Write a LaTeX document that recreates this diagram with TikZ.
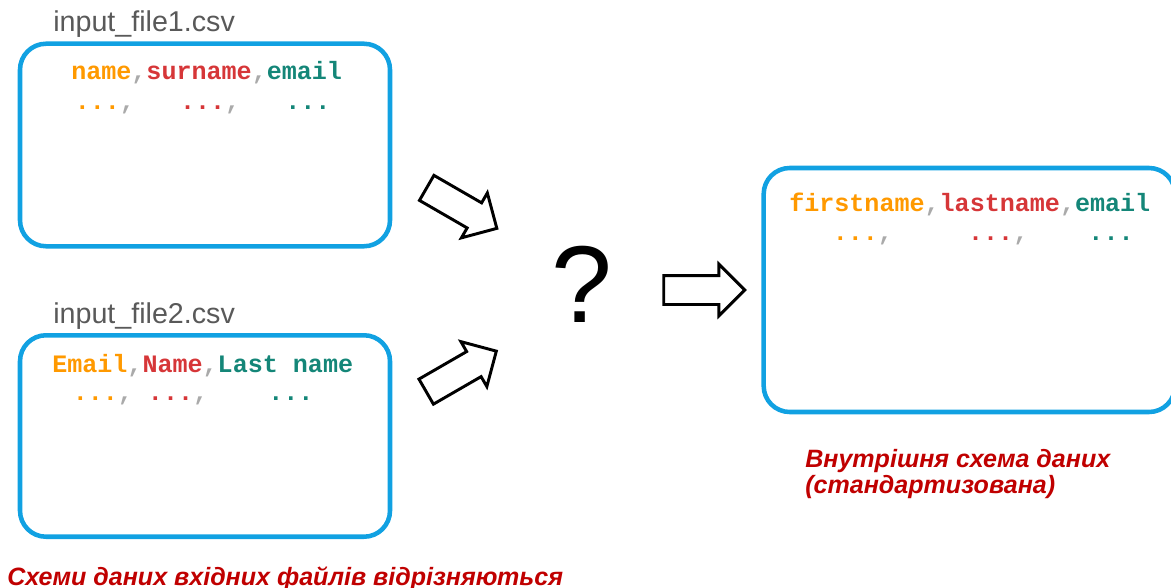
\documentclass[tikz,border=0pt]{standalone}
\usepackage{fontspec}
\setmainfont{Liberation Sans}
\newfontfamily\codefont{Liberation Mono}
\usetikzlibrary{shapes.arrows}

\definecolor{boxblue}{RGB}{17,161,226}
\definecolor{fldorange}{RGB}{255,153,0}
\definecolor{fldred}{RGB}{214,54,56}
\definecolor{fldteal}{RGB}{20,134,120}
\definecolor{cmagray}{RGB}{170,170,170}
\definecolor{labelgray}{RGB}{89,89,89}
\definecolor{notered}{RGB}{192,0,0}

\newcommand{\cma}{\textcolor{cmagray}{,}}

\begin{document}
\begin{tikzpicture}[x=0.75pt, y=-0.75pt,
    databox/.style={draw=boxblue, line width=3.4pt, rounded corners=19.5pt},
    filelabel/.style={anchor=base west, inner sep=0pt, text=labelgray, font=\fontsize{21.5}{26}\selectfont},
    codeline/.style={anchor=base west, inner sep=0pt, font=\codefont\bfseries\fontsize{18.8}{22}\selectfont},
    note/.style={anchor=base west, inner sep=0pt, align=left, text=notered, font=\bfseries\itshape\fontsize{18.8}{19.5}\selectfont},
    fatarrow/.style={single arrow, draw=black, fill=white, line width=2.2pt, inner xsep=0pt, inner ysep=9.75pt,
        minimum height=60.75pt, single arrow head extend=8.6pt}]

    \useasboundingbox (0,0) rectangle (1171,588);

    % input files
    \node[databox, minimum width=277.5pt, minimum height=151.9pt] (file1) at (205,145) {};
    \node[databox, minimum width=277.5pt, minimum height=151.1pt] (file2) at (205,436) {};
    \node[filelabel] (name1) at (53,32) {input\_file1.csv};
    \node[filelabel] (name2) at (53,323) {input\_file2.csv};

    \node[codeline] (head1) at (71,80) {\textcolor{fldorange}{name}\cma\textcolor{fldred}{surname}\cma\textcolor{fldteal}{email}};
    \node[codeline] (rows1) at (74.5,110) {\textcolor{fldorange}{...}\cma~~~\textcolor{fldred}{...}\cma~~~\textcolor{fldteal}{...}};
    \node[codeline] (head2) at (52,372) {\textcolor{fldorange}{Email}\cma\textcolor{fldred}{Name}\cma\textcolor{fldteal}{Last~name}};
    \node[codeline] (rows2) at (72.5,400) {\textcolor{fldorange}{...}\cma~\textcolor{fldred}{...}\cma~~~~\textcolor{fldteal}{...}};

    % internal schema
    \node[databox, minimum width=308.5pt, minimum height=183pt] (inner) at (969.35,290) {};
    \node[codeline] (head3) at (789,211) {\textcolor{fldorange}{firstname}\cma\textcolor{fldred}{lastname}\cma\textcolor{fldteal}{email}};
    \node[codeline] (rows3) at (832.5,240) {\textcolor{fldorange}{...}\cma~~~~~\textcolor{fldred}{...}\cma~~~~\textcolor{fldteal}{...}};

    % arrows and question
    \node[fatarrow, rotate=-30] (arr1) at (455.5,204.5) {};
    \node[fatarrow, rotate=30] (arr2) at (455,375) {};
    \node[anchor=base, inner sep=0pt, font=\fontsize{82}{90}\selectfont] (quest) at (582,322) {?};
    \node[fatarrow] (arr3) at (697,290) {};

    % notes
    \node[note] (note1) at (7,585) {Схеми даних вхідних файлів відрізняються};
    \node[note] (note2) at (805,493) {Внутрішня схема даних\\(стандартизована)};

\end{tikzpicture}
\end{document}
